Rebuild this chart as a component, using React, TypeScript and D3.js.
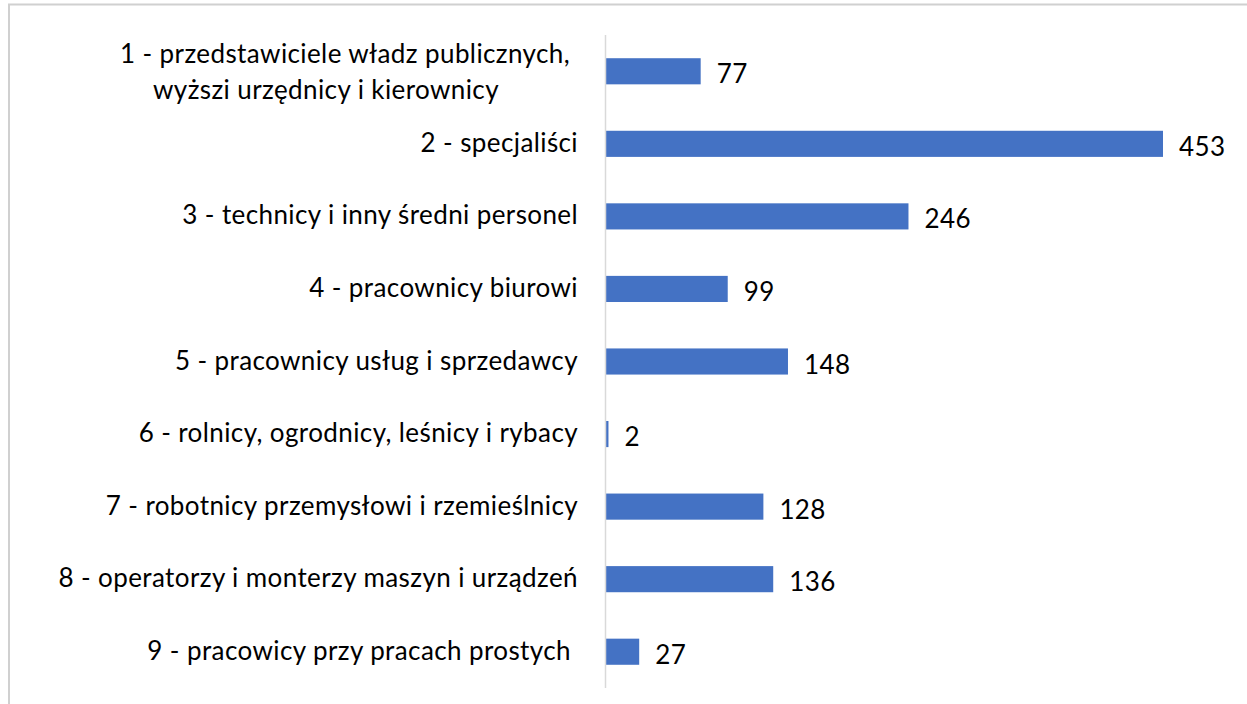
import { useEffect, useRef } from 'react';
import * as d3 from 'd3';

const categories = [
  ['1 - przedstawiciele władz publicznych,', 'wyższi urzędnicy i kierownicy'],
  ['2 - specjaliści'],
  ['3 - technicy i inny średni personel'],
  ['4 - pracownicy biurowi'],
  ['5 - pracownicy usług i sprzedawcy'],
  ['6 - rolnicy, ogrodnicy, leśnicy i rybacy'],
  ['7 - robotnicy przemysłowi i rzemieślnicy'],
  ['8 - operatorzy i monterzy maszyn i urządzeń'],
  ['9 - pracowicy przy pracach prostych'],
];
const values = [77, 453, 246, 99, 148, 2, 128, 136, 27];

const W = 1247;
const H = 704;

const App = () => {
  const svgRef = useRef<SVGSVGElement>(null);

  useEffect(() => {
    if (!svgRef.current) return;
    const svg = d3.select(svgRef.current);
    svg.selectAll('*').remove();

    const font = 'Lato, "Open Sans", sans-serif';
    const fs = 26;
    const ls = 0.4;
    const axisX = 606;
    const top = 35;
    const bottom = 688;

    // chart frame (runs off the right and bottom edges)
    svg.append('path')
      .attr('d', `M9,${H + 10}V4.5H${W + 10}`)
      .attr('fill', 'none')
      .attr('stroke', '#d0d0d0')
      .attr('stroke-width', 2);

    const idx = values.map((_, i) => i);
    const y = d3.scaleBand<number>().domain(idx).range([top, bottom]).paddingInner(0.64).paddingOuter(0.32);
    const x = d3.scaleLinear().domain([0, 453]).range([axisX, 1163]);

    const g = svg.append('g');

    g.selectAll('rect.bar')
      .data(idx)
      .enter()
      .append('rect')
      .attr('class', 'bar')
      .attr('x', x(0))
      .attr('y', i => y(i)!)
      .attr('width', i => x(values[i]) - x(0))
      .attr('height', y.bandwidth())
      .attr('fill', '#4472c4');

    // axis line
    g.append('line')
      .attr('x1', axisX - 0.5)
      .attr('x2', axisX - 0.5)
      .attr('y1', top)
      .attr('y2', bottom)
      .attr('stroke', '#d9d9d9')
      .attr('stroke-width', 1.5);

    // value labels
    g.selectAll('text.val')
      .data(idx)
      .enter()
      .append('text')
      .attr('class', 'val')
      .attr('x', i => x(values[i]) + 16)
      .attr('y', i => y(i)! + y.bandwidth() / 2 + 2)
      .attr('dominant-baseline', 'central')
      .attr('font-family', font)
      .attr('font-size', fs)
      .attr('letter-spacing', ls)
      .attr('fill', '#000')
      .text(i => values[i]);

    // category labels
    idx.forEach(i => {
      const lines = categories[i];
      const cy = y(i)! + y.bandwidth() / 2;
      if (lines.length === 1) {
        g.append('text')
          .attr('x', i === 8 ? 571 : 578)
          .attr('y', cy - 2)
          .attr('text-anchor', 'end')
          .attr('dominant-baseline', 'central')
          .attr('font-family', font)
          .attr('font-size', fs)
          .attr('letter-spacing', ls)
          .attr('fill', '#000')
          .text(lines[0]);
      } else {
        lines.forEach((l, k) => {
          g.append('text')
            .attr('x', k === 0 ? 345 : 326)
            .attr('y', cy - 18 + k * 36)
            .attr('text-anchor', 'middle')
            .attr('dominant-baseline', 'central')
            .attr('font-family', font)
            .attr('font-size', fs)
            .attr('letter-spacing', ls)
            .attr('fill', '#000')
            .text(l);
        });
      }
    });
  }, []);

  return (
    <div style={{ position: 'fixed', left: 0, top: 0, width: W, height: H, background: '#fff' }}>
      <svg ref={svgRef} width={W} height={H} />
    </div>
  );
};

export default App;
